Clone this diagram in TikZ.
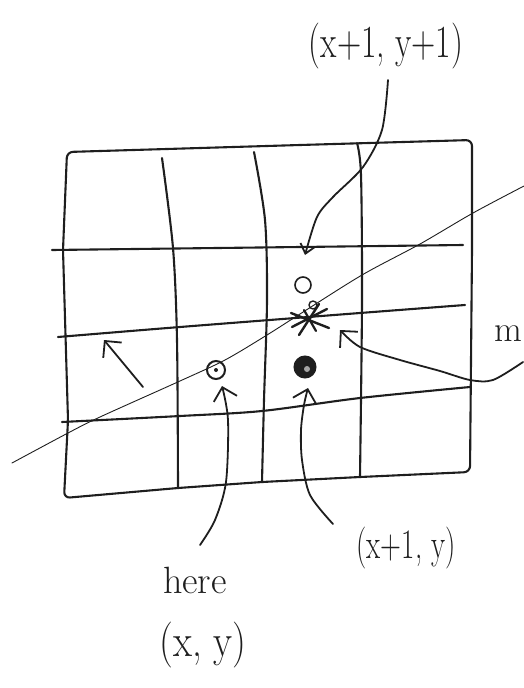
\documentclass[tikz,border=0pt]{standalone}
\usetikzlibrary{arrows.meta}
\definecolor{pencil}{HTML}{1E1E1E}
\begin{document}
\begin{tikzpicture}[x=1pt,y=-1pt,
  gridline/.style={line width=2.1pt, draw=pencil, line cap=round, line join=round},
  thinline/.style={line width=0.9pt, draw=pencil, line cap=round},
  arr/.style={line width=1.8pt, draw=pencil, line cap=round, -{Straight Barb[length=12pt,width=24pt,line width=1.8pt]}},
  arrsmall/.style={line width=1.8pt, draw=pencil, line cap=round, -{Straight Barb[length=9pt,width=15pt,line width=1.8pt]}},
  hand/.style={text=pencil, inner sep=0pt}]
\useasboundingbox (0,0) rectangle (524,688);
\clip (0,0) rectangle (524,688);

% outer border
\draw[gridline, rounded corners=6pt] (67,152) -- (300,145) -- (472,140) -- (472,250) -- (470,472)
  -- (360,477) -- (262,482) -- (178,488) -- (64,498) -- (68,420) -- (63,250) -- cycle;

% vertical grid lines
\draw[gridline] plot[smooth] coordinates {(162,158) (173,248) (177,340) (178,488)};
\draw[gridline] plot[smooth] coordinates {(254,152) (265,220) (267,300) (264,400) (262,482)};
\draw[gridline] plot[smooth] coordinates {(357,143) (361,175) (362,300) (360,477)};

% horizontal grid lines
\draw[gridline] plot[smooth] coordinates {(52,250) (300,247) (463,245)};
\draw[gridline] plot[smooth] coordinates {(58,337) (180,327) (360,313) (465,305)};
\draw[gridline] plot[smooth] coordinates {(62,422) (180,416) (262,411) (360,398) (470,387)};

% thin diagonal line
\draw[thinline] plot[smooth] coordinates {(12,463) (68,433) (100,417) (180,381) (225,360) (267,335) (300,314) (362,275) (420,244) (473,213) (524,186)};

% points
\node[circle, draw=pencil, line width=2pt, minimum size=18pt, inner sep=0pt] (pxy) at (216,370) {};
\fill[pencil] (pxy.center) circle (2pt);
\node[circle, draw=pencil, fill=pencil, line width=2pt, minimum size=21pt, inner sep=0pt] (px1y) at (305,367) {};
\fill[white!60!pencil] (307,369) circle (3pt);
\node[circle, draw=pencil, line width=1.6pt, minimum size=16pt, inner sep=0pt] (px1y1) at (303,285) {};
\coordinate (star) at (310,320);
\draw[gridline, line width=2.4pt] (291,313) -- (329,328);
\draw[gridline, line width=2.4pt] (299,335) -- (319,304);
\draw[gridline, line width=2.4pt] (292,327) -- (327,309);
\draw[gridline, line width=2.2pt] (304,310) -- (316,331);
\draw[gridline, line width=1.4pt] (313,305) circle (4pt);

% labels
\node[hand, font=\fontsize{46}{50}\selectfont] (lab11) at (386,46) {\scalebox{0.73}[1]{(x+1, y+1)}};
\node[hand, font=\fontsize{42}{46}\selectfont] (lab1) at (406,548) {\scalebox{0.69}[1]{(x+1, y)}};
\node[hand, font=\fontsize{38}{44}\selectfont] (labhere) at (195,580) {here};
\node[hand, font=\fontsize{46}{50}\selectfont] (labxy) at (203,645) {\scalebox{0.85}[1]{(x, y)}};
\node[hand, font=\fontsize{36}{40}\selectfont] (labm) at (508,334) {m};

% arrow ends
\coordinate (s11) at (388,80);
\coordinate (t11) at (305,255);
\coordinate (shere) at (200,545);
\coordinate (there) at (222,386);
\coordinate (s1) at (333,524);
\coordinate (t1) at (308,388);
\coordinate (sm) at (523,362);
\coordinate (tm) at (340,330);
\coordinate (sl) at (143,387);
\coordinate (tl) at (104,340);

% arrows
\draw[arrsmall] plot[smooth] coordinates {(s11) (382,130) (363,167) (333,197) (317,217) (t11)};
\draw[arr] plot[smooth] coordinates {(shere) (215,520) (226,482) (228,420) (there)};
\draw[arr] plot[smooth] coordinates {(s1) (310,495) (302,460) (301,430) (304,405) (t1)};
\draw[arr] plot[smooth] coordinates {(sm) (493,380) (470,380) (440,371) (400,360) (360,347) (tm)};
\draw[arr] (sl) -- (tl);
\end{tikzpicture}
\end{document}
